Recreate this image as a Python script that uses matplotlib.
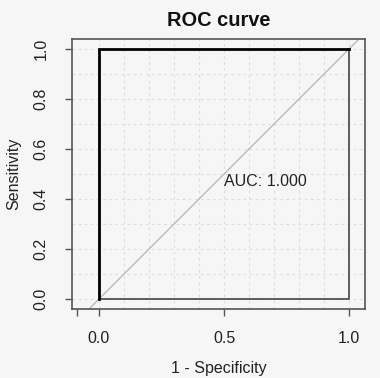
import matplotlib
matplotlib.use("Agg")
import matplotlib.pyplot as plt
import numpy as np

plt.rcParams['font.family'] = ['Liberation Sans', 'DejaVu Sans']

# ROC curve data (1 - specificity, sensitivity)
fpr = [0.0, 0.0, 1.0]
tpr = [0.0, 1.0, 1.0]
# remaining part of the drawn outline
fpr_outline = [0.0, 1.0, 1.0]
tpr_outline = [0.0, 0.0, 1.0]
auc_value = 1.000

x_ticks = [-0.088, 0.0, 0.5, 1.0]
x_labels = ['', '0.0', '0.5', '1.0']
y_ticks = [0.0, 0.2, 0.4, 0.6, 0.8, 1.0]
y_labels = ['0.0', '0.2', '0.4', '0.6', '0.8', '1.0']
grid_vals = [round(0.1 * i, 1) for i in range(11)]

W, H = 380, 378
bg = '#f6f6f6'
fig = plt.figure(figsize=(W / 100, H / 100), dpi=100, facecolor=bg)
L, R, T, B = 72, 365, 39, 309
ax = fig.add_axes([L / W, 1 - B / H, (R - L) / W, (B - T) / H], facecolor=bg)
ax.set_xlim(-0.108, 1.064)
ax.set_ylim(-0.04, 1.04)

# grid
for g in grid_vals:
    ax.axhline(g, color='#dedede', lw=0.8, ls=(0, (2.5, 3)), zorder=1)
    ax.axvline(g, color='#dedede', lw=0.8, ls=(0, (2.5, 3)), zorder=1)

# diagonal reference
ax.axline((0, 0), (1, 1), color='#b4b4b4', lw=0.9, zorder=2)

ax.plot(fpr_outline, tpr_outline, color='#444444', lw=1.2, zorder=3)
ax.plot(fpr, tpr, color='black', lw=2.0, zorder=4, solid_joinstyle='miter')

ax.text(0.5, 0.47, f'AUC: {auc_value:.3f}', ha='left', va='center',
        fontsize=11.5, color='#222222')

for s in ax.spines.values():
    s.set_color('#555555')
    s.set_linewidth(1.2)

ax.set_xticks(x_ticks)
ax.set_xticklabels(x_labels)
ax.set_yticks(y_ticks)
ax.set_yticklabels(y_labels, rotation=90, va='center')
ax.tick_params(axis='both', length=5, width=1.0, color='#555555',
               labelsize=11.5, labelcolor='#222222')
ax.tick_params(axis='x', pad=11)
ax.tick_params(axis='y', pad=12)

fig.text((L + R) / 2 / W, 1 - 21 / H, 'ROC curve', ha='center', va='center',
         fontsize=14.4, fontweight='bold', color='#111111')
fig.text((L + R) / 2 / W, 1 - 368 / H, '1 - Specificity', ha='center', va='center',
         fontsize=11.5, color='#222222')
fig.text(14 / W, 1 - 174 / H, 'Sensitivity', ha='center', va='center',
         rotation=90, fontsize=11.5, color='#222222')

fig.savefig('out.png', dpi=100, facecolor=bg)
